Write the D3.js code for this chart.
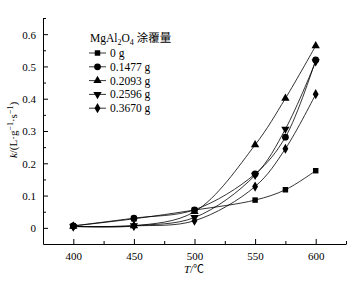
<!DOCTYPE html>
<html>
<head>
<meta charset="utf-8">
<script src="https://cdn.jsdelivr.net/npm/d3@7"></script>
<style>
  body { margin: 0; background: #fff; }
  text { font-family: "Liberation Serif", "Noto Sans CJK SC", serif; fill: #000; }
</style>
</head>
<body>
<svg id="chart" width="357" height="281"></svg>
<script>
var temps = [400, 450, 500, 550, 575, 600];
var series_names = ["0 g", "0.1477 g", "0.2093 g", "0.2596 g", "0.3670 g"];
var k_0g     = [0.006, 0.028, 0.055, 0.086, 0.118, 0.177];
var k_0_1477 = [0.006, 0.030, 0.056, 0.167, 0.281, 0.520];
var k_0_2093 = [0.005, 0.006, 0.050, 0.257, 0.401, 0.564];
var k_0_2596 = [0.004, 0.007, 0.032, 0.163, 0.306, 0.515];
var k_0_3670 = [0.004, 0.006, 0.022, 0.128, 0.245, 0.414];
var x_ticks = [400, 450, 500, 550, 600];
var y_ticks = [0, 0.1, 0.2, 0.3, 0.4, 0.5, 0.6];

var all_k = [k_0g, k_0_1477, k_0_2093, k_0_2596, k_0_3670];
var symbols = [d3.symbolSquare, d3.symbolCircle, d3.symbolTriangle, "down", d3.symbolDiamond];

var svg = d3.select("#chart");

var x_scaler = d3.scaleLinear().domain([375, 625]).range([43, 346]);
var y_scaler = d3.scaleLinear().domain([-0.05, 0.65]).range([244, 18]);

// axes, ticks pointing inward
svg.append("g")
  .attr("transform", "translate(0," + y_scaler(-0.05) + ")")
  .call(d3.axisTop(x_scaler).tickValues(d3.range(425, 626, 50)).tickSize(3).tickFormat(""))
  .call(function(g) { g.select(".domain").remove(); });
var xa = svg.append("g")
  .attr("transform", "translate(0," + y_scaler(-0.05) + ")")
  .call(d3.axisTop(x_scaler).tickValues(x_ticks).tickSize(5).tickFormat(d3.format("d")).tickSizeOuter(0));
xa.selectAll("text").attr("y", 16).attr("dy", 0).style("font-size", "11px");

svg.append("g")
  .attr("transform", "translate(" + x_scaler(375) + ",0)")
  .call(d3.axisRight(y_scaler).tickValues([0.05, 0.15, 0.25, 0.35, 0.45, 0.55, 0.65]).tickSize(3).tickFormat(""))
  .call(function(g) { g.select(".domain").remove(); });
var ya = svg.append("g")
  .attr("transform", "translate(" + x_scaler(375) + ",0)")
  .call(d3.axisRight(y_scaler).tickValues(y_ticks).tickSize(5).tickSizeOuter(0)
    .tickFormat(function(d) { return d === 0 ? "0" : d3.format(".1f")(d); }));
ya.selectAll("text").attr("x", -7).attr("dy", "0.35em").style("text-anchor", "end").style("font-size", "11px");

svg.selectAll(".domain, .tick line").attr("stroke", "#000").attr("stroke-width", 1);

// axis titles
svg.append("text")
  .attr("x", 194).attr("y", 273)
  .attr("text-anchor", "middle")
  .style("font-size", "11px")
  .html("<tspan font-style='italic'>T</tspan>/\u2103");

svg.append("text")
  .attr("transform", "translate(17,130) rotate(-90)")
  .attr("text-anchor", "middle")
  .style("font-size", "11px")
  .html("<tspan font-style='italic'>k</tspan>/(L\u00b7g<tspan dy='-4' font-size='8px'>\u22121</tspan><tspan dy='4'>\u00b7s</tspan><tspan dy='-4' font-size='8px'>\u22121</tspan><tspan dy='4'>)</tspan>");

function markerPath(s, size) {
  if (s === "down") {
    return d3.symbol().type(d3.symbolTriangle).size(size)();
  }
  return d3.symbol().type(s).size(size)();
}
function markerTransform(s, x, y) {
  return "translate(" + x + "," + y + ")" + (s === "down" ? " rotate(180)" : "");
}

var line = d3.line()
  .x(function(d) { return x_scaler(d[0]); })
  .y(function(d) { return y_scaler(d[1]); })
  .curve(d3.curveCatmullRom.alpha(0.5));

all_k.forEach(function(vals, i) {
  var pts = temps.map(function(t, j) { return [t, vals[j]]; });
  svg.append("path")
    .attr("d", line(pts))
    .attr("fill", "none")
    .attr("stroke", "#000")
    .attr("stroke-width", 0.8);
  svg.selectAll(".m" + i)
    .data(pts)
    .enter()
    .append("path")
    .attr("class", "m" + i)
    .attr("d", markerPath(symbols[i], i === 1 ? 36 : 30))
    .attr("transform", function(d) { return markerTransform(symbols[i], x_scaler(d[0]), y_scaler(d[1])); })
    .attr("fill", "#000");
});

// legend
svg.append("text")
  .attr("x", 90).attr("y", 42)
  .style("font-size", "11.5px")
  .html("MgAl<tspan dy='3' font-size='8px'>2</tspan><tspan dy='-3'>O</tspan><tspan dy='3' font-size='8px'>4</tspan><tspan dy='-3'> \u6d82\u8986\u91cf</tspan>");

var legend = svg.selectAll(".legend")
  .data(series_names)
  .enter()
  .append("g")
  .attr("class", "legend")
  .attr("transform", function(d, i) { return "translate(0," + (53 + i * 13.8) + ")"; });

legend.append("line")
  .attr("x1", 89).attr("x2", 106)
  .attr("stroke", "#000").attr("stroke-width", 0.8);
legend.append("path")
  .attr("d", function(d, i) { return markerPath(symbols[i], i === 1 ? 36 : 30); })
  .attr("transform", function(d, i) { return markerTransform(symbols[i], 97.5, 0); })
  .attr("fill", "#000");
legend.append("text")
  .attr("x", 110).attr("y", 4)
  .style("font-size", "11.5px")
  .text(function(d) { return d; });
</script>
</body>
</html>
